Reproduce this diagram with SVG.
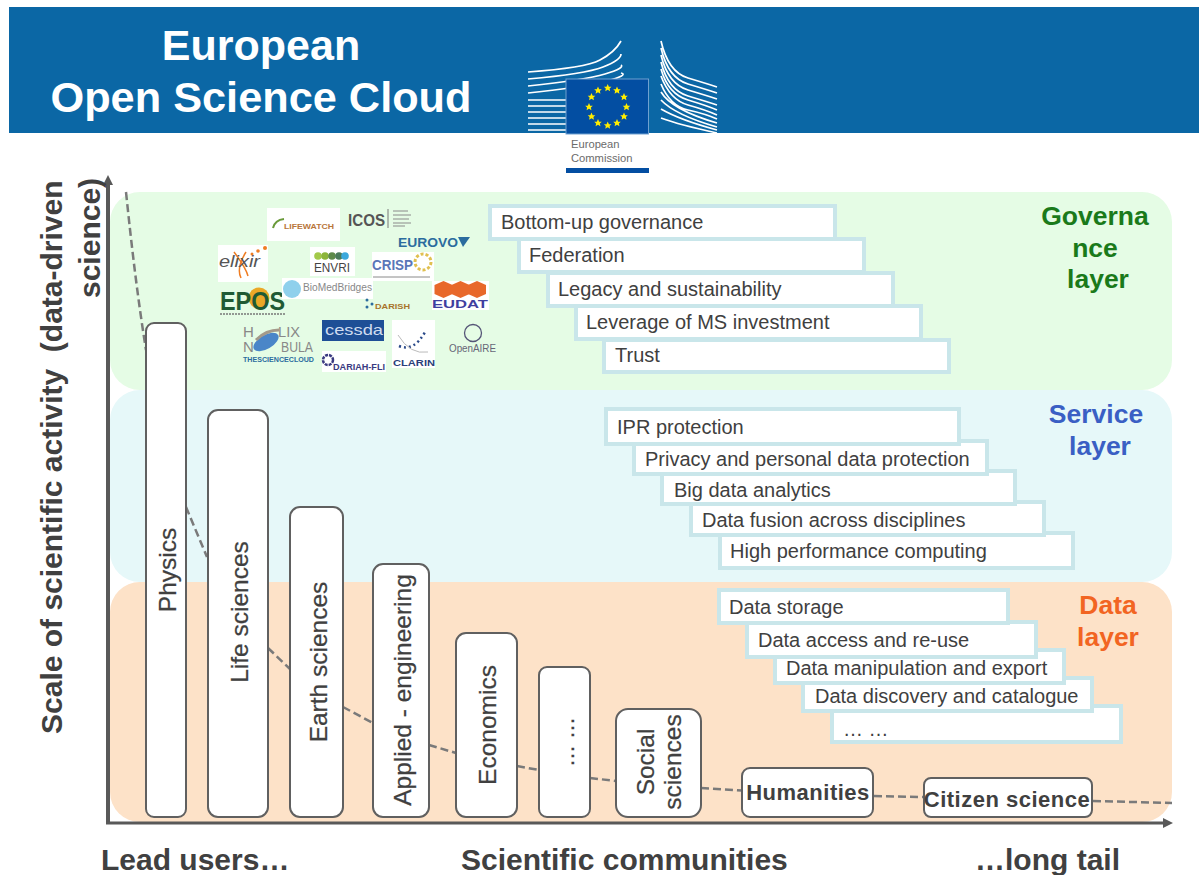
<svg xmlns="http://www.w3.org/2000/svg" width="1199" height="875" viewBox="0 0 1199 875">
<style>
text{font-family:"Liberation Sans",Arial,sans-serif}
.t{font-size:20px;fill:#404040}
.b{fill:#fff;stroke:#c9e6ea;stroke-width:4}
.c{fill:#fff;stroke:#606060;stroke-width:2}
.cl{font-size:24.500px;fill:#404040;stroke:#404040;stroke-width:.25;text-anchor:middle}
.cb{font-size:22px;fill:#404040;text-anchor:middle;font-weight:bold;letter-spacing:.5px}
.ax{font-size:30px;font-weight:bold;fill:#404040}
.lay{font-size:26.500px;font-weight:bold;text-anchor:middle}
.bld{fill:none;stroke:#fff;stroke-width:1.700}
.dash{fill:none;stroke:#7a7a7a;stroke-width:2.500;stroke-dasharray:8 4}
.ec{font-size:11.200px;fill:#6b6b6b}
.ln{stroke:#8a8a8a;stroke-width:1;fill:none}
</style>
<defs>
<marker id="arr" markerUnits="userSpaceOnUse" markerWidth="10" markerHeight="10" refX="0" refY="5" orient="auto"><path d="M0,0L10,5L0,10Z" fill="#595959"/></marker>
<path id="star" d="M0-4L1.200-1.300L3.800-1.200L1.900.500L2.400,3.200L0,1.800L-2.400,3.200L-1.900.500L-3.800-1.200L-1.200-1.300Z" fill="#ffed00"/>
<path id="cube" d="M0 0L9 -4L18 0V9L9 13L0 9Z" fill="#e8682a"/>
</defs>
<rect width="1199" height="875" fill="#fff"/>
<g id="header">
<rect x="9" y="7" width="1190" height="126" fill="#0b67a5"/>
<text x="261" y="60" font-size="43" font-weight="bold" fill="#fff" text-anchor="middle">European</text>
<text x="261" y="112" font-size="43.300" font-weight="bold" fill="#fff" text-anchor="middle">Open Science Cloud</text>
</g>
<g id="ec-logo">
<path class="bld" d="M528 72Q585 68 600 60T621 41M528 79Q585 74 603 67T621 54M528 86Q585 80 605 74T621 65M528 93Q585 87 607 81T621 73M528 100H566M528 106H566M528 112H566M528 118H566M528 124H566M528 130H566"/>
<path class="bld" d="M661 41Q668 72 688 78T717 87M661 48Q668 78 688 84T717 93M661 55Q668 84 688 90T717 99M661 62Q668 90 688 96T717 105M661 69Q668 94 688 100T717 110M661 76Q670 100 688 105T717 115M661 84Q670 106 688 110T717 119M661 92Q672 110 717 123M661 100Q675 115 717 127M661 109Q680 120 717 130M661 118Q680 125 717 133"/>
<rect x="566" y="79" width="82.500" height="55" fill="#034ea2" stroke="#6fa0d0"/>
<use href="#star" x="607.700" y="88"/><use href="#star" x="617" y="90.500"/><use href="#star" x="624" y="97"/><use href="#star" x="626.500" y="107"/><use href="#star" x="624" y="116.500"/><use href="#star" x="617" y="123"/><use href="#star" x="607.700" y="125.500"/><use href="#star" x="598" y="123"/><use href="#star" x="591.500" y="116.500"/><use href="#star" x="589" y="107"/><use href="#star" x="591.500" y="97"/><use href="#star" x="598" y="90.500"/>
<text class="ec" x="571" y="148">European</text>
<text class="ec" x="571" y="161.500">Commission</text>
<rect x="566" y="168" width="83" height="5" fill="#034ea2"/>
</g>
<g id="layers">
<rect id="governance-layer" x="110" y="192" width="1062" height="198" rx="30" fill="#e5fce5"/>
<rect id="service-layer" x="110" y="390" width="1062" height="192" rx="30" fill="#e6f8f9"/>
<rect id="data-layer" x="110" y="582" width="1062" height="240" rx="30" fill="#fde2c8"/>
<text class="lay" x="1095" y="225" fill="#1a7a1a">Governa</text>
<text class="lay" x="1095" y="257" fill="#1a7a1a">nce</text>
<text class="lay" x="1098" y="288" fill="#1a7a1a">layer</text>
<text class="lay" x="1096" y="423" fill="#3a5fc4">Service</text>
<text class="lay" x="1100" y="455" fill="#3a5fc4">layer</text>
<text class="lay" x="1108" y="614" fill="#f26522">Data</text>
<text class="lay" x="1108" y="646" fill="#f26522">layer</text>
</g>
<g id="connectors">
<path class="dash" d="M126 192C132 250 138 300 146 350"/>
<path class="dash" d="M186 507L207 557"/>
<path class="dash" d="M268 648L290 669"/>
<path class="dash" d="M343 707L373 723"/>
<path class="dash" d="M429 745L456 753"/>
<path class="dash" d="M517 766L539 770"/>
<path class="dash" d="M590 778L616 781"/>
<path class="dash" d="M701 788L742 790.500"/>
<path class="dash" d="M874 796L923 797"/>
<path class="dash" d="M1093 801L1172 803"/>
<path d="M108 824V185" stroke="#595959" stroke-width="4" fill="none" marker-end="url(#arr)"/>
<path d="M106 823H1163" stroke="#595959" stroke-width="3" fill="none" marker-end="url(#arr)"/>
</g>
<g id="axis-labels">
<text class="ax" transform="translate(62 734) rotate(-90)">Scale of scientific activity &#160;(data-driven</text>
<text class="ax" transform="translate(100 298) rotate(-90)">science)</text>
<text class="ax" x="101" y="870">Lead users…</text>
<text class="ax" x="461" y="870">Scientific communities</text>
<text class="ax" x="975" y="870">…long tail</text>
</g>
<g id="logos">
<rect x="267" y="208" width="73" height="33" fill="#fff"/>
<path d="M273 228Q275 220 284 219" fill="none" stroke="#6a9a3a" stroke-width="2"/>
<text x="284" y="229" font-size="8" font-weight="bold" fill="#b9763a" textLength="50" lengthAdjust="spacingAndGlyphs">LIFEWATCH</text>
<text x="348" y="226" font-size="17" font-weight="bold" fill="#555" textLength="37" lengthAdjust="spacingAndGlyphs">ICOS</text>
<path d="M388 209V228" stroke="#777"/>
<path class="ln" d="M393 211H408M393 215H411M393 219H409M393 223H411M393 226H405"/>
<text x="398" y="247" font-size="13.500" font-weight="bold" fill="#2b6c9e" textLength="60" lengthAdjust="spacingAndGlyphs">EUROVO</text>
<path d="M458 237H470L463 247Z" fill="#2b6c9e"/>
<rect x="218" y="245" width="50" height="37" fill="#fff"/>
<path d="M246 252Q236 268 241 278M234 252Q246 268 248 276" fill="none" stroke="#ef7d22" stroke-width="1.500"/>
<circle cx="252" cy="254" r="1.500" fill="#ef7d22"/><circle cx="258" cy="251" r="1.800" fill="#ef7d22"/><circle cx="265" cy="248" r="2" fill="#ef7d22"/>
<text x="219" y="267" font-size="17" font-style="italic" fill="#555" textLength="41" lengthAdjust="spacingAndGlyphs">elixir</text>
<rect x="310" y="247" width="45" height="29" fill="#fff"/>
<circle cx="318" cy="256" r="3.800" fill="#a3c94a"/><circle cx="325" cy="256" r="3.800" fill="#8cb53a"/><circle cx="332" cy="256" r="3.800" fill="#5e8a4a"/><circle cx="339" cy="256" r="3.800" fill="#4a7a5a"/><circle cx="345" cy="256" r="3.800" fill="#3ba8dc"/>
<text x="314" y="272" font-size="13.500" fill="#444" textLength="36" lengthAdjust="spacingAndGlyphs">ENVRI</text>
<rect x="372" y="252" width="62" height="29" fill="#fff"/>
<circle cx="423" cy="262" r="8" fill="none" stroke="#e0c050" stroke-width="3" stroke-dasharray="3 2"/>
<text x="372" y="270" font-size="15" font-weight="bold" fill="#5a76b8" textLength="41" lengthAdjust="spacingAndGlyphs">CRISP</text>
<path class="ln" d="M373 277H430"/>
<circle cx="259" cy="298" r="10.500" fill="#eba827"/>
<text x="220" y="310" font-size="26" font-weight="bold" fill="#1f5a34" textLength="65" lengthAdjust="spacingAndGlyphs">EPOS</text>
<path d="M220 314H285" stroke="#777" stroke-width="1.500" stroke-dasharray="2 1"/>
<rect x="282" y="278" width="91" height="21" fill="#fff"/>
<circle cx="292" cy="289" r="9" fill="#8fd0ec"/>
<text x="303" y="291" font-size="10.500" fill="#888" textLength="69" lengthAdjust="spacingAndGlyphs">BioMedBridges</text>
<circle cx="367" cy="300" r="1.500" fill="#2b6c9e"/><circle cx="372" cy="304" r="1.500" fill="#2b6c9e"/><circle cx="367" cy="307" r="1.500" fill="#2b6c9e"/>
<text x="375" y="309" font-size="8" font-weight="bold" fill="#a8742c" textLength="35" lengthAdjust="spacingAndGlyphs">DARISH</text>
<rect x="432" y="281" width="57" height="29" fill="#fff"/>
<use href="#cube" x="434.500" y="285"/><use href="#cube" x="451.500" y="285"/><use href="#cube" x="468" y="285"/>
<text x="432" y="308" font-size="11" font-weight="bold" fill="#3f3f9f" textLength="56" lengthAdjust="spacingAndGlyphs">EUDAT</text>
<text x="243" y="337" font-size="15" fill="#888">H</text>
<text x="278" y="337" font-size="15" fill="#888" textLength="22" lengthAdjust="spacingAndGlyphs">LIX</text>
<text x="243" y="352" font-size="15" fill="#888">N</text>
<text x="281" y="352" font-size="15" fill="#888" textLength="32" lengthAdjust="spacingAndGlyphs">BULA</text>
<ellipse cx="266" cy="342" rx="14" ry="7" transform="rotate(-30 266 342)" fill="#4a86c8"/>
<path d="M256 340Q266 330 279 330" fill="none" stroke="#a39a8a" stroke-width="3"/>
<text x="243" y="362" font-size="7.500" font-weight="bold" fill="#2b6c9e" textLength="71" lengthAdjust="spacingAndGlyphs">THESCIENCECLOUD</text>
<rect x="322" y="320" width="62" height="21" fill="#1e4f96"/>
<text x="325" y="335" font-size="15" fill="#cfdcf0" textLength="58" lengthAdjust="spacingAndGlyphs">cessda</text>
<rect x="322" y="351" width="64" height="21" fill="#fff"/>
<circle cx="328" cy="360" r="5" fill="none" stroke="#3a3a80" stroke-width="2.500" stroke-dasharray="3 1"/>
<text x="333" y="370" font-size="9" font-weight="bold" fill="#3a3a80" textLength="52" lengthAdjust="spacingAndGlyphs">DARIAH-FLI</text>
<rect x="392" y="320" width="43" height="48" fill="#fff"/>
<path d="M399 346Q414 352 425 332" fill="none" stroke="#2b4a8a" stroke-width="2.500" stroke-dasharray="2 3"/>
<path d="M398 335Q410 355 428 352" fill="none" stroke="#bbb"/>
<text x="393" y="366" font-size="9.500" font-weight="bold" fill="#2b3f7a" textLength="42" lengthAdjust="spacingAndGlyphs">CLARIN</text>
<circle cx="473" cy="333" r="8.500" fill="none" stroke="#557" stroke-width="1.300"/>
<text x="449" y="352" font-size="10.500" fill="#667" textLength="47" lengthAdjust="spacingAndGlyphs">OpenAIRE</text>
</g>
<g id="governance-boxes">
<rect class="b" x="604" y="340" width="345" height="32"/>
<rect class="b" x="576" y="306" width="345" height="33"/>
<rect class="b" x="548" y="273" width="345" height="33"/>
<rect class="b" x="519" y="239" width="345" height="33"/>
<rect class="b" x="490" y="206" width="345" height="33"/>
<text class="t" x="501" y="229">Bottom-up governance</text>
<text class="t" x="529" y="262">Federation</text>
<text class="t" x="558" y="296">Legacy and sustainability</text>
<text class="t" x="586" y="329">Leverage of MS investment</text>
<text class="t" x="615" y="362">Trust</text>
</g>
<g id="service-boxes">
<rect class="b" x="720" y="533" width="353" height="35"/>
<rect class="b" x="691" y="502" width="353" height="33"/>
<rect class="b" x="662" y="471" width="353" height="33"/>
<rect class="b" x="634" y="441" width="353" height="33"/>
<rect class="b" x="606" y="409" width="353" height="35"/>
<text class="t" x="617" y="434">IPR protection</text>
<text class="t" x="645" y="466">Privacy and personal data protection</text>
<text class="t" x="674" y="497">Big data analytics</text>
<text class="t" x="702" y="527">Data fusion across disciplines</text>
<text class="t" x="730" y="558">High performance computing</text>
</g>
<g id="data-boxes">
<rect class="b" x="832" y="706" width="289" height="36"/>
<rect class="b" x="803" y="678" width="289" height="33"/>
<rect class="b" x="775" y="650" width="289" height="33"/>
<rect class="b" x="747" y="622" width="289" height="35"/>
<rect class="b" x="719" y="590" width="289" height="33"/>
<text class="t" x="729" y="614">Data storage</text>
<text class="t" x="758" y="647">Data access and re-use</text>
<text class="t" x="786" y="675">Data manipulation and export</text>
<text class="t" x="815" y="703">Data discovery and catalogue</text>
<text class="t" x="843" y="736">… …</text>
</g>
<g id="physics"><rect class="c" x="146" y="323" width="40" height="494" rx="8"/><text class="cl" transform="translate(176 570) rotate(-90)">Physics</text></g>
<g id="life-sciences"><rect class="c" x="208" y="410" width="60" height="407" rx="10"/><text class="cl" transform="translate(248 612) rotate(-90)">Life sciences</text></g>
<g id="earth-sciences"><rect class="c" x="290" y="507" width="53" height="310" rx="10"/><text class="cl" transform="translate(327 662) rotate(-90)">Earth sciences</text></g>
<g id="applied-engineering"><rect class="c" x="373" y="564" width="56" height="253" rx="10"/><text class="cl" transform="translate(411 690) rotate(-90)">Applied - engineering</text></g>
<g id="economics"><rect class="c" x="456" y="633" width="61" height="184" rx="10"/><text class="cl" transform="translate(496 725) rotate(-90)">Economics</text></g>
<g id="dots"><rect class="c" x="539" y="667" width="51" height="150" rx="8"/><text class="cl" transform="translate(574 742) rotate(-90)" style="font-size:22px">… …</text></g>
<g id="social-sciences"><rect class="c" x="616" y="709" width="85" height="108" rx="12"/><text class="cl" transform="translate(654 762) rotate(-90)">Social</text><text class="cl" transform="translate(681 762) rotate(-90)">sciences</text></g>
<g id="humanities"><rect class="c" x="742" y="768" width="131" height="49" rx="8"/><text class="cb" x="808" y="800">Humanities</text></g>
<g id="citizen-science"><rect class="c" x="924" y="778" width="168" height="39" rx="7"/><text class="cb" x="1007" y="807">Citizen science</text></g>
</svg>
